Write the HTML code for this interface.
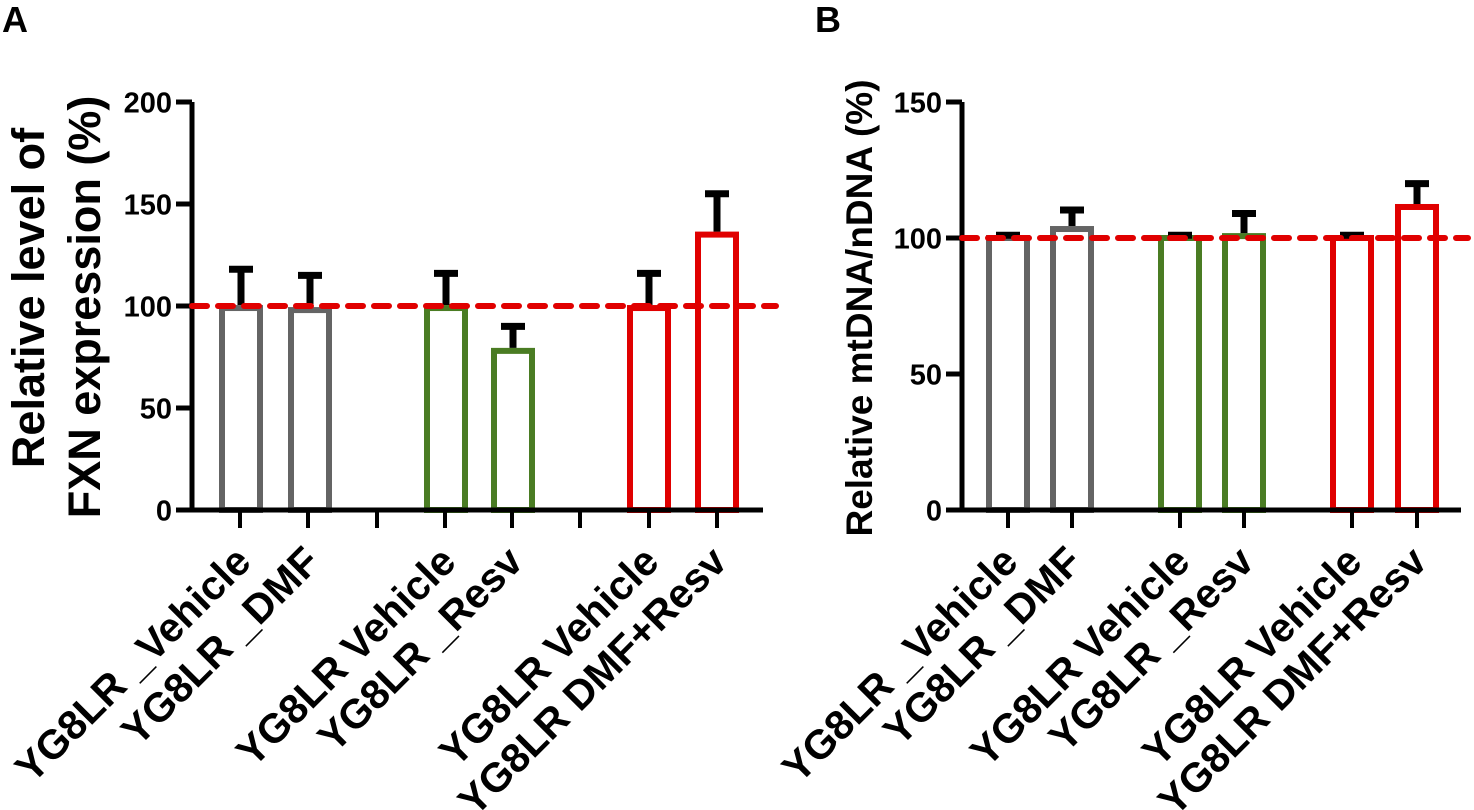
<!DOCTYPE html>
<html><head><meta charset="utf-8"><style>
html,body{margin:0;padding:0;background:#fff}
svg{display:block;font-family:"Liberation Sans",Arial,sans-serif;font-weight:bold}
</style></head><body>
<svg id="fig" width="1474" height="810" viewBox="0 0 1474 810" xmlns="http://www.w3.org/2000/svg">
<text x="2" y="32" font-size="36">A</text>
<text x="815" y="32" font-size="36">B</text>
<g id="panelA"></g>
<g id="panelB"></g>
</svg>
<script>
const labelsA = ["YG8LR _Vehicle","YG8LR _DMF","YG8LR  Vehicle","YG8LR _Resv","YG8LR  Vehicle","YG8LR  DMF+Resv"];
const valuesA = [99, 98, 99, 78, 99, 135];
const errorsA = [19, 17, 17, 12, 17, 20];
const ticksA = [0, 50, 100, 150, 200];
const labelsB = ["YG8LR _Vehicle","YG8LR _DMF","YG8LR Vehicle","YG8LR _Resv","YG8LR Vehicle","YG8LR DMF+Resv"];
const valuesB = [100, 103.3, 100, 100.7, 100, 111.4];
const errorsB = [1, 7, 1, 8.3, 1, 8.6];
const ticksB = [0, 50, 100, 150];
const colors = ["#646464","#646464","#4a7c23","#4a7c23","#e00000","#e00000"];
const refLine = 100;

const NS = "http://www.w3.org/2000/svg";
function mk(parent, tag, attrs, text){
  const e = document.createElementNS(NS, tag);
  for (const k in attrs) e.setAttribute(k, attrs[k]);
  if (text !== undefined) e.textContent = text;
  parent.appendChild(e);
  return e;
}

function draw(g, cfg){
  const y = v => cfg.y0 - v / cfg.ymax * (cfg.y0 - cfg.ytop);
  cfg.values.forEach((v, i) => {
    const cx = cfg.xs[i];
    const bw = 38;
    const r = mk(g, "rect", {x: cx - bw/2, y: y(v), width: bw, height: cfg.y0 - y(v), fill: "none", stroke: colors[i], "stroke-width": 6});
    
    
    const top = y(v + cfg.errors[i]);
    const eb = mk(g, "path", {d: `M${cx},${y(v)-3}V${top}M${cx-12},${top}H${cx+12}`, stroke: "#000", "stroke-width": 7, fill: "none"});
    
    
  });
  const ya = mk(g, "line", {x1: cfg.x0, y1: cfg.ytop, x2: cfg.x0, y2: cfg.y0 + 2.5, stroke: "#000", "stroke-width": 5});
  
  
  const xa = mk(g, "line", {x1: cfg.x0 - 2.5, y1: cfg.y0, x2: cfg.xend, y2: cfg.y0, stroke: "#000", "stroke-width": 5});
  
  
  cfg.ticks.forEach(t => {
    mk(g, "line", {x1: cfg.x0 - 16, y1: y(t), x2: cfg.x0, y2: y(t), stroke: "#000", "stroke-width": 5});
    const tl = mk(g, "text", {x: cfg.x0 - 20, y: y(t) + 10.5, "font-size": 29, "text-anchor": "end"}, String(t));
    
    
  });
  cfg.xticks.forEach(x => {
    mk(g, "line", {x1: x, y1: cfg.y0, x2: x, y2: cfg.y0 + 18, stroke: "#000", "stroke-width": 4});
  });
  const rl = mk(g, "line", {x1: cfg.x0, y1: y(refLine), x2: cfg.dashEnd, y2: y(refLine), stroke: "#e00000", "stroke-width": 6, "stroke-dasharray": "15 11", "stroke-linecap": "round"});
  
  
  cfg.labels.forEach((l, i) => {
    const x = cfg.xs[i] + 12, yy = cfg.y0 + 54;
    const t = mk(g, "text", {x: x, y: yy, "font-size": 41, "text-anchor": "end", transform: `rotate(-45 ${x} ${yy})`, "xml:space": "preserve"}, l);
    
    
  });
}

draw(document.getElementById("panelA"), {
  x0: 192, xend: 763, dashEnd: 776, y0: 510, ytop: 102, ymax: 200,
  xs: [241, 310, 446, 513, 649, 717],
  xticks: [240, 308, 377, 445, 512, 580, 649, 717],
  values: valuesA, errors: errorsA, ticks: ticksA, labels: labelsA
});
draw(document.getElementById("panelB"), {
  x0: 962, xend: 1461, dashEnd: 1468, y0: 510, ytop: 102, ymax: 150,
  xs: [1008, 1072, 1180, 1244, 1352, 1417],
  xticks: [1008, 1072, 1180, 1244, 1352, 1417],
  values: valuesB, errors: errorsB, ticks: ticksB, labels: labelsB
});

const svg = document.getElementById("fig");
const ya1 = mk(svg, "text", {x: 0, y: 0, "font-size": 45, "text-anchor": "middle", transform: "translate(44 298) rotate(-90)"}, "Relative level of");


const ya2 = mk(svg, "text", {x: 0, y: 0, "font-size": 45, "text-anchor": "middle", transform: "translate(100 307) rotate(-90)"}, "FXN expression (%)");


const yb = mk(svg, "text", {x: 0, y: 0, "font-size": 37, "text-anchor": "middle", transform: "translate(872 308) rotate(-90)"}, "Relative mtDNA/nDNA (%)");


</script>
</body></html>
